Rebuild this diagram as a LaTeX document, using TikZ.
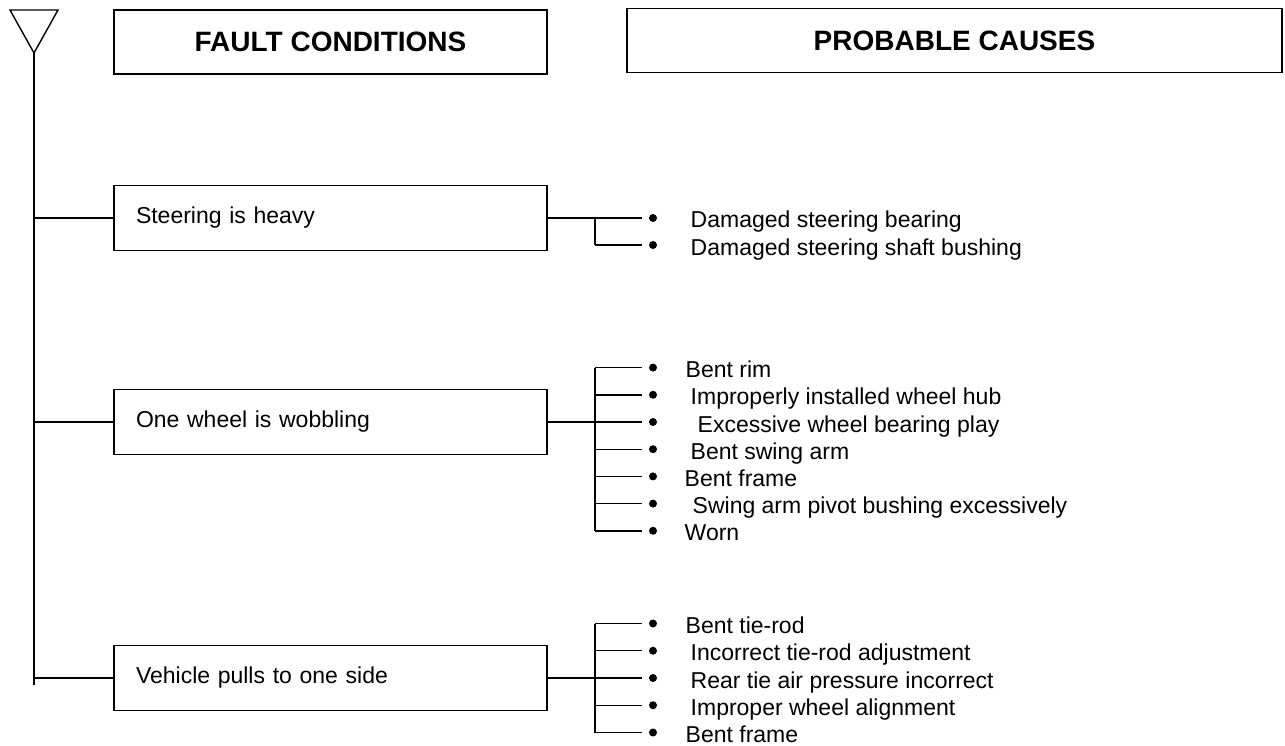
\documentclass[tikz,border=0pt]{standalone}
\usepackage{fontspec}
\setmainfont{Liberation Sans}
\usetikzlibrary{calc}

\begin{document}
\begin{tikzpicture}[x=1pt, y=-1pt, line width=1.4pt,
  every node/.style={font=\fontsize{23}{27}\selectfont},
  headbox/.style={draw, minimum height=64pt, inner sep=0pt, font=\fontsize{28}{33}\selectfont\bfseries},
  faultbox/.style={draw, minimum height=65pt, inner xsep=22pt, inner ysep=0pt, text width=389pt, align=left},
  dot/.style={circle, fill, inner sep=0pt, minimum size=8pt},
  cause/.style={anchor=base west, inner sep=0pt}]
  \useasboundingbox (0,0) rectangle (1285,746);

  % Causes macro: name, first y, step, count, list
  \def\drawcauses#1#2#3#4#5{
    \foreach \xo/\txt [count=\i] in {#5} {
      \pgfmathsetmacro\yy{#2+#3*(\i-1)}
      \coordinate (#1f\i) at (595,\yy);
      \node[dot] (#1\i) at (653,\yy) {};
      \node[cause] (#1t\i) at (\xo,\yy+10) {\txt};
      \draw (#1f\i) -- ([xshift=-6pt]#1\i.west);
    }
    \draw (#1f1) -- (#1f#4);
  }

  % Headers
  \node[headbox, minimum width=433pt] (fault) at (330.5,42) {FAULT CONDITIONS};
  \node[headbox, minimum width=655pt] (causes) at (954.5,40.5) {PROBABLE CAUSES};

  % Fault conditions
  \node[faultbox] (steer) at (330.5,218) {Steering is heavy};
  \node[faultbox] (wobble) at (330.5,422) {One wheel is wobbling};
  \node[faultbox] (pull) at (330.5,678) {Vehicle pulls to one side};

  % Trunk
  \coordinate (apex) at (34,53);
  \coordinate (foot) at (34,685);
  \draw (10,10) -- (58,10) -- (apex) -- cycle;
  \draw (apex) -- (foot);
  \foreach \b in {steer, wobble, pull}
    \draw (\b.west -| apex) -- (\b.west);

  % Steering is heavy
  \drawcauses{s}{218}{27}{2}{690/Damaged steering bearing, 690/Damaged steering shaft bushing}
  \draw (steer.east) -- (sf1);

  % One wheel is wobbling
  \drawcauses{w}{367.6}{27.2}{7}{685/Bent rim, 690/Improperly installed wheel hub,
    697/Excessive wheel bearing play, 690/Bent swing arm, 684/Bent frame,
    692/Swing arm pivot bushing excessively, 684/Worn}
  \draw (wobble.east) -- (wf3);

  % Vehicle pulls to one side
  \drawcauses{p}{623.5}{27.25}{5}{685/Bent tie-rod, 690/Incorrect tie-rod adjustment,
    690/Rear tie air pressure incorrect, 690/Improper wheel alignment, 685/Bent frame}
  \draw (pull.east) -- (pf3);
\end{tikzpicture}
\end{document}
